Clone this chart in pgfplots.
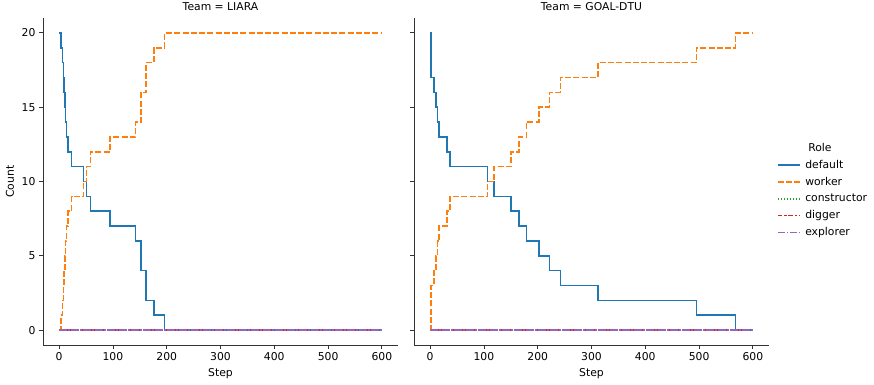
\documentclass[border=0pt]{standalone}
\usepackage{pgfplots}
\pgfplotsset{compat=1.18}
\usepackage{fontspec}
\setmainfont{DejaVu Sans}
\definecolor{tabblue}{HTML}{1F77B4}
\definecolor{taborange}{HTML}{FF7F0E}
\definecolor{tabgreen}{HTML}{2CA02C}
\definecolor{tabred}{HTML}{D62728}
\definecolor{tabpurple}{HTML}{9467BD}
\pgfplotsset{
  facet/.style={
    scale only axis, width=355pt, height=327pt,
    xmin=-30, xmax=630, ymin=-1, ymax=21,
    axis x line*=bottom, axis y line*=left,
    axis line style={black!80, line width=0.8pt},
    every tick/.style={black!80, line width=0.8pt},
    tick align=outside, major tick length=4pt,
    xtick={0,100,...,600}, ytick={0,5,10,15,20},
    /pgf/number format/assume math mode=true,
    tick label style={font=\fontsize{10.8}{13}\selectfont},
    label style={font=\fontsize{10.8}{13}\selectfont},
    title style={font=\fontsize{10.8}{13}\selectfont, at={(0.5,1)}, anchor=south, yshift=-2pt},
    xlabel={Step},
    xlabel style={at={(axis description cs:0.5,-0.086)}, anchor=center},
    const plot, no markers,
    every axis plot/.append style={line width=1.6pt},
    clip=false,
  },
  sdefault/.style={tabblue, solid},
  sworker/.style={taborange, dash pattern=on 6pt off 2.25pt},
  sconstructor/.style={tabgreen, dash pattern=on 1.5pt off 1.5pt},
  sdigger/.style={tabred, dash pattern=on 4.5pt off 1.875pt on 2.25pt off 1.875pt},
  sexplorer/.style={tabpurple, dash pattern=on 7.5pt off 1.5pt on 1.5pt off 1.5pt},
}
\pgfplotstableread{
x y
0 20
3 19
6 18
8 17
9 16
11 15
12 14
14 13
17 12
23 11
45 10
51 9
58 8
95 7
142 6
152 4
162 2
176 1
196 0
600 0
}\liaradefault
\pgfplotstableread{
x y
0 0
3 1
6 2
8 3
9 4
11 5
12 6
14 7
17 8
23 9
45 10
51 11
58 12
95 13
142 14
152 16
162 18
176 19
196 20
600 20
}\liaraworker
\pgfplotstableread{
x y
0 20
2 17
7 16
11 15
14 14
16 13
31 12
37 11
107 10
119 9
150 8
165 7
179 6
202 5
222 4
242 3
312 2
495 1
568 0
600 0
}\goaldefault
\pgfplotstableread{
x y
0 0
2 3
7 4
11 5
14 6
16 7
31 8
37 9
107 10
119 11
150 12
165 13
179 14
202 15
222 16
242 17
312 18
495 19
568 20
600 20
}\goalworker
\pgfplotstableread{
x y
0 0
600 0
}\zeros
\begin{document}
\begin{tikzpicture}
\useasboundingbox (0pt,0pt) rectangle (874pt,384pt);
\begin{axis}[facet, at={(43pt,39pt)}, anchor=south west,
  title={Team = LIARA}, ylabel={Count},
  ylabel style={at={(axis description cs:-0.093,0.5)}, anchor=center}]
\addplot[sdefault] table {\liaradefault};
\addplot[sworker] table {\liaraworker};
\addplot[sconstructor] table {\zeros};
\addplot[sdigger] table {\zeros};
\addplot[sexplorer] table {\zeros};
\end{axis}
\begin{axis}[facet, at={(414pt,39pt)}, anchor=south west,
  title={Team = GOAL-DTU}, yticklabels={},
  legend cell align=left,
  legend image code/.code={\draw[#1] (0pt,0pt) -- (22pt,0pt);},
  legend style={draw=none, fill=none, at={(rel axis cs:1.014,0.628)}, anchor=north west,
    font=\fontsize{10.8}{13}\selectfont, row sep=4.3pt, column sep=3pt,
    nodes={inner sep=1.5pt}}]
\addlegendimage{empty legend}
\addlegendentry{\hspace{3pt}Role}
\addplot[sdefault] table {\goaldefault};
\addlegendentry{default}
\addplot[sworker] table {\goalworker};
\addlegendentry{worker}
\addplot[sconstructor] table {\zeros};
\addlegendentry{constructor}
\addplot[sdigger] table {\zeros};
\addlegendentry{digger}
\addplot[sexplorer] table {\zeros};
\addlegendentry{explorer}
\end{axis}
\end{tikzpicture}
\end{document}
